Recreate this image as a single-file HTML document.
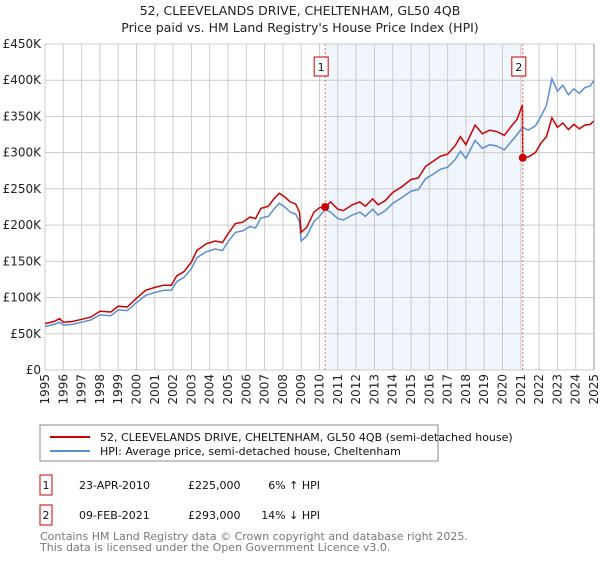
<!DOCTYPE html>
<html><head><meta charset="utf-8"><style>
body{margin:0;background:#fff;font-family:"Liberation Sans","DejaVu Sans",sans-serif}
svg text{font-family:"DejaVu Sans","Liberation Sans",sans-serif}
</style></head><body>
<svg id="c" width="600" height="560" xmlns="http://www.w3.org/2000/svg">
<text x="300" y="15" text-anchor="middle" font-size="12.5" fill="#222">52, CLEEVELANDS DRIVE, CHELTENHAM, GL50 4QB</text>
<text x="300" y="32" text-anchor="middle" font-size="12.5" fill="#222">Price paid vs. HM Land Registry's House Price Index (HPI)</text>
<g id="grid"></g><g id="series"></g><g id="axes"></g>
<rect x="40" y="425" width="398" height="36" fill="#fff" stroke="#888"/>
<line x1="50" y1="437" x2="90" y2="437" stroke="#cc0000" stroke-width="2"/>
<text x="100" y="441" font-size="11" fill="#111">52, CLEEVELANDS DRIVE, CHELTENHAM, GL50 4QB (semi-detached house)</text>
<line x1="50" y1="451" x2="90" y2="451" stroke="#5b8fd4" stroke-width="2"/>
<text x="100" y="455" font-size="11" fill="#111">HPI: Average price, semi-detached house, Cheltenham</text>
<rect x="40" y="475" width="12" height="20" fill="#fff" stroke="#cc0000"/>
<text x="46" y="489" text-anchor="middle" font-size="11" fill="#111">1</text>
<text x="79" y="489" font-size="11" fill="#111">23-APR-2010</text>
<text x="188" y="489" font-size="11" fill="#111">£225,000</text>
<text x="320" y="489" text-anchor="end" font-size="11" fill="#111">6% ↑ HPI</text>
<rect x="40" y="505" width="12" height="20" fill="#fff" stroke="#cc0000"/>
<text x="46" y="519" text-anchor="middle" font-size="11" fill="#111">2</text>
<text x="79" y="519" font-size="11" fill="#111">09-FEB-2021</text>
<text x="188" y="519" font-size="11" fill="#111">£293,000</text>
<text x="320" y="519" text-anchor="end" font-size="11" fill="#111">14% ↓ HPI</text>
<text x="40" y="540" font-size="11" fill="#777">Contains HM Land Registry data © Crown copyright and database right 2025.</text>
<text x="40" y="551" font-size="11" fill="#777">This data is licensed under the Open Government Licence v3.0.</text>
</svg>
<script>
const hpiDates=[1995.0,1995.5,1995.8,1996.0,1996.5,1997.0,1997.5,1998.0,1998.6,1999.0,1999.5,2000.0,2000.5,2001.0,2001.5,2001.9,2002.2,2002.6,2003.0,2003.3,2003.8,2004.3,2004.7,2005.0,2005.4,2005.8,2006.2,2006.5,2006.8,2007.2,2007.5,2007.8,2008.1,2008.4,2008.7,2008.9,2009.0,2009.3,2009.7,2010.0,2010.3,2010.6,2011.0,2011.3,2011.8,2012.2,2012.5,2012.9,2013.2,2013.6,2014.0,2014.5,2015.0,2015.4,2015.8,2016.2,2016.6,2017.0,2017.4,2017.7,2018.0,2018.5,2018.9,2019.3,2019.7,2020.1,2020.5,2020.8,2021.1,2021.4,2021.8,2022.1,2022.4,2022.7,2023.0,2023.3,2023.6,2023.9,2024.2,2024.5,2024.8,2025.0];
const hpiValues=[60,63,66,62,63,66,69,76,75,83,82,93,103,107,110,110,122,128,140,155,163,167,165,177,190,192,198,196,210,212,222,230,225,218,215,205,178,185,205,212,222,218,209,207,214,218,212,222,214,220,230,238,247,249,264,270,277,280,290,302,292,317,306,311,309,304,316,325,335,331,337,350,365,402,385,393,380,388,382,390,392,400];
const redDates=[1995.0,1995.5,1995.8,1996.0,1996.5,1997.0,1997.5,1998.0,1998.6,1999.0,1999.5,2000.0,2000.5,2001.0,2001.5,2001.9,2002.2,2002.6,2003.0,2003.3,2003.8,2004.3,2004.7,2005.0,2005.4,2005.8,2006.2,2006.5,2006.8,2007.2,2007.5,2007.8,2008.1,2008.4,2008.7,2008.9,2009.0,2009.3,2009.7,2010.0,2010.31,2010.6,2011.0,2011.3,2011.8,2012.2,2012.5,2012.9,2013.2,2013.6,2014.0,2014.5,2015.0,2015.4,2015.8,2016.2,2016.6,2017.0,2017.4,2017.7,2018.0,2018.5,2018.9,2019.3,2019.7,2020.1,2020.5,2020.8,2021.09,2021.11,2021.4,2021.8,2022.1,2022.4,2022.7,2023.0,2023.3,2023.6,2023.9,2024.2,2024.5,2024.8,2025.0];
const redValues=[64,67,71,66,67,70,73,81,80,88,87,99,110,114,117,117,130,136,149,165,174,178,176,188,202,204,211,209,223,226,236,244,239,232,229,218,190,197,218,224,225,232,222,220,228,232,226,236,228,234,245,253,263,265,281,288,295,298,309,322,311,338,326,331,329,324,337,346,366,293,294,300,313,322,348,335,341,332,339,333,338,339,344];
const sales=[{d:2010.31,v:225,l:"1"},{d:2021.11,v:293,l:"2"}];
const yTicks=[0,50,100,150,200,250,300,350,400,450];
const yTickLabels=["£0","£50K","£100K","£150K","£200K","£250K","£300K","£350K","£400K","£450K"];
const xTicks=[1995,1996,1997,1998,1999,2000,2001,2002,2003,2004,2005,2006,2007,2008,2009,2010,2011,2012,2013,2014,2015,2016,2017,2018,2019,2020,2021,2022,2023,2024,2025];
const L=45,R=594,T=44,B=370;
const X=d=>L+(d-1995)/30*(R-L);
const Y=v=>B-v/450*(B-T);
const NS="http://www.w3.org/2000/svg";
function mk(p,t,a){const e=document.createElementNS(NS,t);for(const k in a)e.setAttribute(k,a[k]);p.appendChild(e);return e;}
const grid=document.getElementById('grid'),ser=document.getElementById('series'),ax=document.getElementById('axes');
const sh=mk(grid,'rect',{x:X(sales[0].d),y:T,width:X(sales[1].d)-X(sales[0].d),height:B-T,fill:'#eef2fb',opacity:0.8});


yTicks.forEach((v,i)=>{
 mk(grid,'line',{x1:L,x2:R,y1:Y(v),y2:Y(v),stroke:'#ccc','stroke-width':1});
 const t=mk(ax,'text',{x:L-4,y:Y(v)+4,'text-anchor':'end','font-size':12,fill:'#222'});t.textContent=yTickLabels[i];
 
 
});
xTicks.forEach(d=>{
 mk(grid,'line',{x1:X(d),x2:X(d),y1:T,y2:B,stroke:'#ccc','stroke-width':1});
 const t=mk(ax,'text',{x:0,y:0,'text-anchor':'end','font-size':12,fill:'#222',transform:`translate(${X(d)+4},${B+4}) rotate(-90)`});t.textContent=d;
 
 
});
function path(ds,vs){return ds.map((d,i)=>(i?'L':'M')+X(d).toFixed(1)+','+Y(vs[i]).toFixed(1)).join('');}
const hp=mk(ser,'path',{d:path(hpiDates,hpiValues),fill:'none',stroke:'#5b8fd4','stroke-width':1.5});


const rp=mk(ser,'path',{d:path(redDates,redValues),fill:'none',stroke:'#cc0000','stroke-width':1.5});


sales.forEach(s=>{
 mk(ser,'line',{x1:X(s.d),x2:X(s.d),y1:T,y2:B,stroke:'#f07070','stroke-width':1,'stroke-dasharray':'2,2'});
 const c=mk(ser,'circle',{cx:X(s.d),cy:Y(s.v),r:4,fill:'#cc0000'});
 
 
 const b=mk(ser,'rect',{x:X(s.d)-11,y:57,width:14,height:19,fill:'#fff',stroke:'#cc0000'});
 
 
 const t=mk(ser,'text',{x:X(s.d)-4,y:71,'text-anchor':'middle','font-size':11,fill:'#111'});t.textContent=s.l;
});
mk(ax,'line',{x1:R,x2:R,y1:T,y2:B,stroke:'#999'});
</script>
</body></html>
